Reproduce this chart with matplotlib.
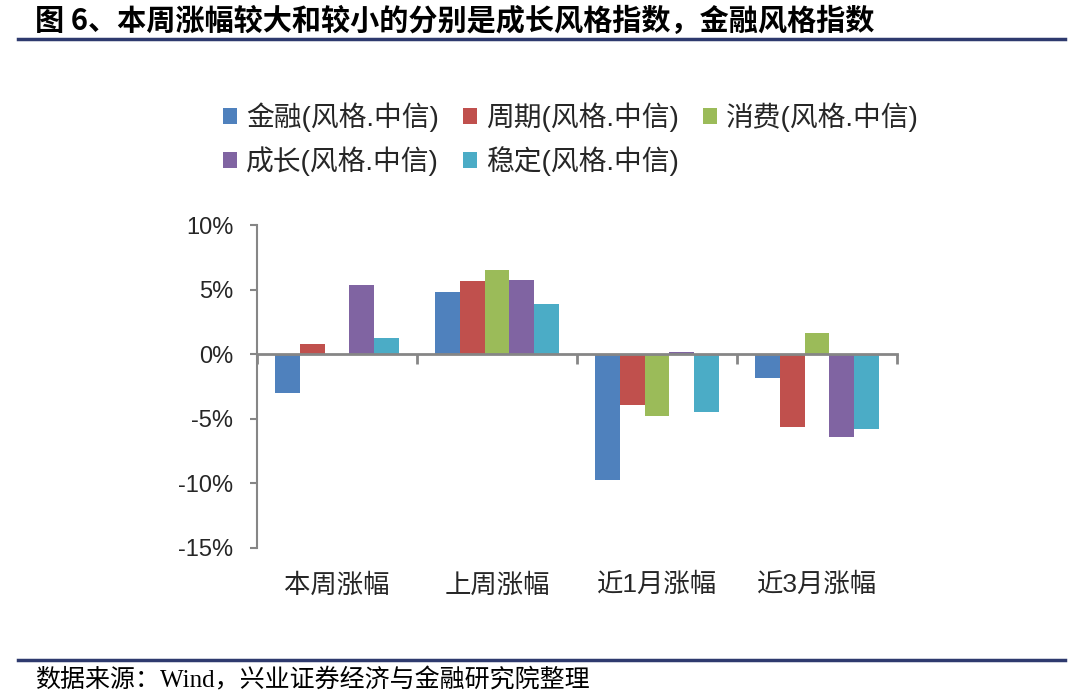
import matplotlib
matplotlib.use("Agg")
import matplotlib.pyplot as plt
import matplotlib.transforms as mtransforms
from matplotlib.patches import Patch
import numpy as np

plt.rcParams['font.family'] = ['Liberation Sans', 'Noto Sans CJK SC', 'DejaVu Sans']

categories = ['本周涨幅', '上周涨幅', '近1月涨幅', '近3月涨幅']
series_names = ['金融(风格.中信)', '周期(风格.中信)', '消费(风格.中信)', '成长(风格.中信)', '稳定(风格.中信)']
jinrong = [-3.0, 4.82, -9.72, -1.86]
zhouqi = [0.82, 5.64, -3.90, -5.67]
xiaofei = [0.0, 6.50, -4.82, 1.67]
chengzhang = [5.38, 5.77, 0.18, -6.42]
wending = [1.24, 3.87, -4.50, -5.78]
values = [jinrong, zhouqi, xiaofei, chengzhang, wending]
colors = ['#4F81BD', '#C0504D', '#9BBB59', '#8064A2', '#4BACC6']
yticks = [10, 5, 0, -5, -10, -15]
ytick_labels = ['10%', '5%', '0%', '-5%', '-10%', '-15%']

W, H = 1080, 699
fig = plt.figure(figsize=(W / 100, H / 100), dpi=100)
ax = fig.add_axes([257 / W, 1 - 548 / H, (897 - 257) / W, (548 - 225) / H])

n = len(values)
bw = 0.156
x = np.arange(len(categories))
handles = []
for i, (vals, c, name) in enumerate(zip(values, colors, series_names)):
    ax.bar(x + (i - (n - 1) / 2) * bw, vals, width=bw, color=c, zorder=2)
    handles.append(Patch(facecolor=c, label=name))

ax.set_xlim(-0.5, len(categories) - 0.5)
ax.set_ylim(-15, 10)
ax.set_yticks(yticks)
ax.set_yticklabels(ytick_labels, fontsize=17)
ax.set_xticks(np.arange(len(categories) + 1) - 0.5)
ax.set_xticklabels([])
gray = '#868686'
for s in ['top', 'right']:
    ax.spines[s].set_visible(False)
ax.spines['bottom'].set_position(('data', 0))
ax.spines['bottom'].set_color(gray)
ax.spines['bottom'].set_linewidth(2)
ax.spines['left'].set_color(gray)
ax.spines['left'].set_linewidth(1.5)
ax.tick_params(axis='y', direction='out', length=5, width=1.5, color=gray, pad=12, labelcolor='#262626')
ax.tick_params(axis='x', direction='out', length=7, width=2, color=gray)

trans = mtransforms.blended_transform_factory(ax.transData, ax.transAxes)
for xi, cat in zip(x, categories):
    ax.text(xi, -0.115, cat, transform=trans, ha='center', va='center', fontsize=19, color='#262626')

leg_order = [0, 3, 1, 4, 2]
fig.legend([handles[i] for i in leg_order], [series_names[i] for i in leg_order],
           ncol=3, loc='center', bbox_to_anchor=(571 / W, 1 - 139 / H),
           frameon=False, fontsize=20, handlelength=0.5, handleheight=0.5,
           handletextpad=0.35, columnspacing=0.85, labelspacing=0.5,
           labelcolor='#262626')

# Title and decoration
fig.text(35 / W, 1 - 21 / H, '图 6、本周涨幅较大和较小的分别是成长风格指数，金融风格指数',
         fontsize=21, fontweight='bold', family=['Noto Sans CJK SC'], va='center', ha='left')
navy = '#2E3A6E'
fig.add_artist(plt.Line2D([18 / W, 1065 / W], [1 - 39 / H, 1 - 39 / H], color=navy, lw=2.5))
fig.add_artist(plt.Line2D([18 / W, 1065 / W], [1 - 660 / H, 1 - 660 / H], color=navy, lw=2.5))
fig.text(35 / W, 1 - 680 / H, '数据来源：Wind，兴业证券经济与金融研究院整理',
         fontsize=18, family=['Liberation Serif', 'Noto Sans CJK SC'], va='center', ha='left')

fig.savefig('out.png', dpi=100)
